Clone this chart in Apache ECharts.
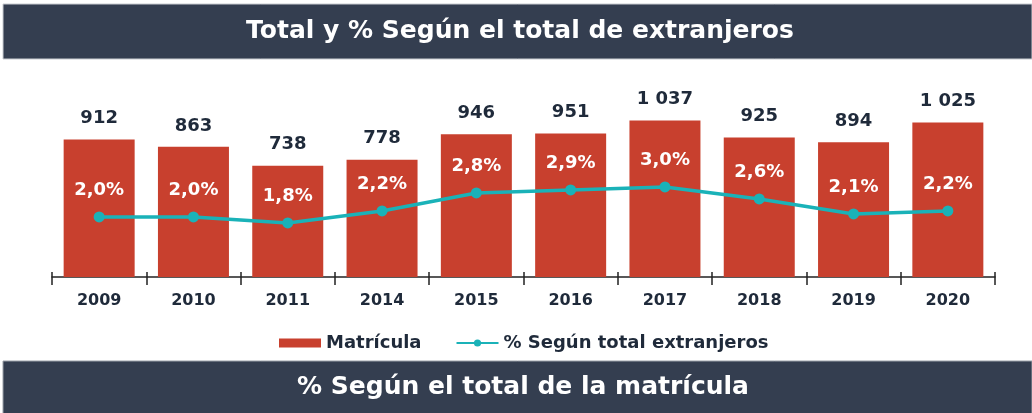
<!DOCTYPE html>
<html><head><meta charset="utf-8">
<script src="https://cdn.jsdelivr.net/npm/echarts@6/dist/echarts.min.js"></script>
<style>html,body{margin:0;padding:0;background:#fff}#c{width:1032px;height:413px}</style>
</head><body><div id="c"></div>
<script>
const categories = ['2009','2010','2011','2014','2015','2016','2017','2018','2019','2020'];
const matricula = [912, 863, 738, 778, 946, 951, 1037, 925, 894, 1025];
const pctExtranjeros = [2.0, 2.0, 1.8, 2.2, 2.8, 2.9, 3.0, 2.6, 2.1, 2.2];
const titleTop = 'Total y % Según el total de extranjeros';
const titleBottom = '% Según el total de la matrícula';

const navy = '#343e50';
const red = '#c8402e';
const teal = '#1ab2b8';
const fontF = '"DejaVu Sans", Verdana, sans-serif';

const chart = echarts.init(document.getElementById('c'));
chart.setOption({
  animation: false,
  backgroundColor: '#fff',
  graphic: [
    {type:'rect', shape:{x:3,y:4,width:1029,height:55}, style:{fill:navy, stroke:'#c9ccd1', lineWidth:1}, z:0},
    {type:'text', x:520, y:31, style:{text:titleTop, fill:'#fff', font:'bold 25px ' + fontF, textAlign:'center', textVerticalAlign:'middle'}, z:1},
    {type:'rect', shape:{x:3,y:361,width:1029,height:53}, style:{fill:navy, stroke:'#9aa0a8', lineWidth:1}, z:0},
    {type:'text', x:523, y:387, style:{text:titleBottom, fill:'#fff', font:'bold 25px ' + fontF, textAlign:'center', textVerticalAlign:'middle'}, z:1}
  ],
  legend: {
    top: 334, left: 279, padding: 0, itemGap: 34, itemWidth: 42, itemHeight: 9,
    textStyle: {fontFamily: fontF, fontWeight: 'bold', fontSize: 18, color: '#1f2a3a'},
    data: [
      {name: 'Matrícula', icon: 'rect'},
      {name: '% Según total extranjeros'}
    ]
  },
  grid: {left: 52, right: 37, top: 96, bottom: 136},
  xAxis: [
    {
      type: 'category', data: categories,
      axisLine: {lineStyle: {color: '#222', width: 1.5}},
      axisTick: {show: true, length: 8, lineStyle: {color: '#222', width: 1.5}},
      axisLabel: {margin: 16, fontFamily: fontF, fontWeight: 'bold', fontSize: 16, color: '#1f2a3a'}
    },
    {
      type: 'category', data: categories, position: 'bottom',
      axisLine: {show: false},
      axisTick: {show: true, inside: true, length: 5, lineStyle: {color: '#222', width: 1.5}},
      axisLabel: {show: false}
    }
  ],
  yAxis: [
    {type: 'value', min: 0, max: 1200, show: false, splitLine: {show: false}},
    {type: 'value', min: 0, max: 6.03, show: false, splitLine: {show: false}}
  ],
  series: [
    {
      name: 'Matrícula', type: 'bar', data: matricula, barWidth: 71,
      itemStyle: {color: red},
      label: {
        show: true, position: 'top', distance: 12,
        fontFamily: fontF, fontWeight: 'bold', fontSize: 18, color: '#1f2a3a',
        formatter: p => String(p.value).replace(/\B(?=(\d{3})+(?!\d))/g, ' ')
      }
    },
    {
      name: '% Según total extranjeros', type: 'line', yAxisIndex: 1, data: pctExtranjeros,
      symbol: 'circle', symbolSize: 11,
      lineStyle: {color: teal, width: 3.5},
      itemStyle: {color: teal},
      label: {
        show: true, position: 'top', distance: 12,
        fontFamily: fontF, fontWeight: 'bold', fontSize: 18, color: '#fff',
        formatter: p => p.value.toFixed(1).replace('.', ',') + '%'
      },
      z: 3
    }
  ]
});
</script></body></html>
